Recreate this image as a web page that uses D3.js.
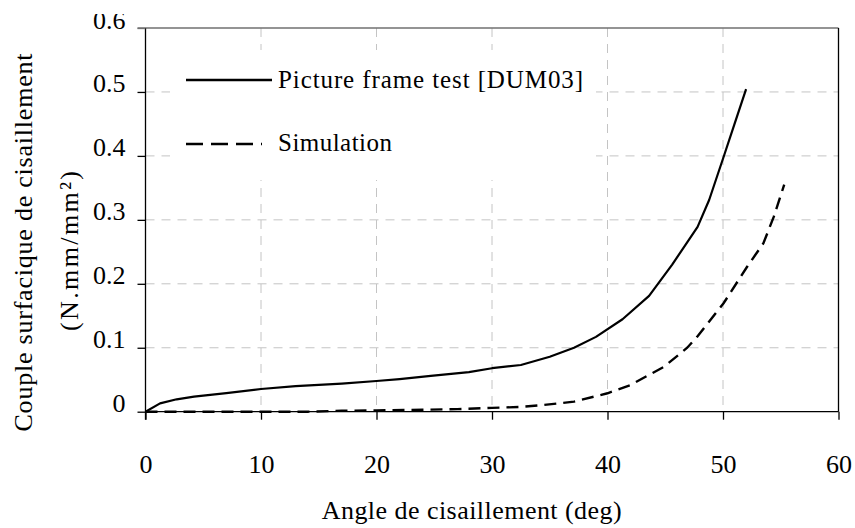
<!DOCTYPE html>
<html>
<head>
<meta charset="utf-8">
<script src="https://cdn.jsdelivr.net/npm/d3@7"></script>
<style>
  html, body { margin: 0; padding: 0; background: #fff; }
  svg { display: block; }
  text { font-family: "Liberation Serif", "Times New Roman", serif; fill: #000; }
</style>
</head>
<body>
<svg id="chart" width="855" height="528"></svg>
<script>
// ---- data ----
const xTickValues = [0, 10, 20, 30, 40, 50, 60];
const yTickValues = [0, 0.1, 0.2, 0.3, 0.4, 0.5, 0.6];
const yTickLabels = ["0", "0.1", "0.2", "0.3", "0.4", "0.5", "0.6"];

const testAngle = [0, 1.26, 2.7, 4.2, 7, 10, 13, 17, 20, 22, 24.7, 28, 30, 32.5, 35, 37.1, 39, 41.3, 43.6, 45.6, 47.8, 48.8, 50.1, 51, 52];
const testValue = [0, 0.013, 0.0194, 0.0235, 0.029, 0.0355, 0.040, 0.044, 0.048, 0.051, 0.056, 0.062, 0.068, 0.073, 0.086, 0.1, 0.117, 0.1446, 0.181, 0.23, 0.289, 0.331, 0.401, 0.45, 0.5045];

const simAngle = [0, 5, 10, 14, 17, 20, 24, 27, 30, 32.5, 34.2, 37.1, 40, 42, 44.9, 46.9, 47.75, 50.05, 52.1, 53.5, 54.4, 55.3];
const simValue = [0, 0, 0, 0, 0.0015, 0.002, 0.003, 0.004, 0.006, 0.0075, 0.01, 0.0157, 0.0288, 0.0418, 0.0704, 0.1, 0.117, 0.1696, 0.227, 0.2635, 0.305, 0.355];

const seriesNames = ["Picture frame test [DUM03]", "Simulation"];
const xTitle = "Angle de cisaillement (deg)";
const yTitle1 = "Couple surfacique de cisaillement";
const yTitle2 = "(N.mm/mm²)";

// ---- layout ----
const svg = d3.select("#chart");
const L = 145.5, R = 838.5, T = 28, B = 411.7;
const x = d3.scaleLinear().domain([0, 60]).range([L, R]);
const y = d3.scaleLinear().domain([0, 0.6]).range([B, T]);
const FONT = "Liberation Serif";

svg.append("defs").append("clipPath").attr("id", "topclip")
  .append("rect").attr("x", 0).attr("y", 14).attr("width", 855).attr("height", 514);

const root = svg.append("g").attr("clip-path", "url(#topclip)");

// gridlines
const grid = root.append("g").attr("stroke", "#c4c4c4").attr("stroke-width", 1).attr("stroke-dasharray", "9,7");
grid.selectAll("line.v").data(xTickValues.filter(d => d > 0 && d < 60)).join("line")
  .attr("x1", d => x(d)).attr("x2", d => x(d)).attr("y1", T).attr("y2", B);
grid.selectAll("line.h").data(yTickValues.filter(d => d > 0 && d < 0.6)).join("line")
  .attr("x1", L).attr("x2", R).attr("y1", d => y(d)).attr("y2", d => y(d));

// legend background
root.append("rect").attr("x", 170).attr("y", 50).attr("width", 426).attr("height", 130).attr("fill", "#fff");

// top border (gray) and right border
root.append("line").attr("x1", L - 8).attr("x2", R).attr("y1", T).attr("y2", T)
  .attr("stroke", "#707070").attr("stroke-width", 1.4);
root.append("line").attr("x1", R).attr("x2", R).attr("y1", T).attr("y2", B)
  .attr("stroke", "#000").attr("stroke-width", 1.3);

// axes
const xAxis = d3.axisBottom(x).tickValues(xTickValues).tickSize(8).tickFormat(d3.format("d"));
const gx = root.append("g").attr("transform", `translate(0,${B})`).call(xAxis);
gx.attr("font-family", FONT);
gx.select(".domain").attr("stroke", "#000").attr("stroke-width", 1.3).attr("d", `M${L},0H${R}`);
gx.selectAll(".tick line").attr("stroke", "#000").attr("stroke-width", 1.3);
gx.selectAll(".tick text").attr("font-size", 26).attr("font-family", FONT)
  .attr("dy", null).attr("y", 61.5);

const yAxis = d3.axisLeft(y).tickValues(yTickValues).tickSize(8)
  .tickFormat((d, i) => yTickLabels[i]);
const gy = root.append("g").attr("transform", `translate(${L},0)`).call(yAxis);
gy.attr("font-family", FONT);
gy.select(".domain").attr("stroke", "#000").attr("stroke-width", 1.3).attr("d", `M0,${T}V${B + 8}`);
gy.selectAll(".tick line").attr("stroke", "#000").attr("stroke-width", 1.3);
gy.selectAll(".tick text").attr("font-size", 26).attr("font-family", FONT)
  .attr("dy", null).attr("x", -20).attr("y", 0);
gy.selectAll(".tick").filter(d => d === 0.6).select("line").attr("stroke", "#707070");

// series
const line = d3.line().x(d => x(d[0])).y(d => y(d[1])).curve(d3.curveLinear);
const testData = testAngle.map((a, i) => [a, testValue[i]]);
const simData = simAngle.map((a, i) => [a, simValue[i]]);

root.append("path").datum(simData).attr("d", line).attr("fill", "none")
  .attr("stroke", "#000").attr("stroke-width", 2.4).attr("stroke-dasharray", "12,7");
root.append("path").datum(testData).attr("d", line).attr("fill", "none")
  .attr("stroke", "#000").attr("stroke-width", 2.2).attr("stroke-linejoin", "round");

// legend
const lg = root.append("g");
lg.append("line").attr("x1", 186).attr("x2", 272).attr("y1", 80).attr("y2", 80)
  .attr("stroke", "#000").attr("stroke-width", 2.4);
lg.append("text").attr("x", 278).attr("y", 88).attr("font-size", 25)
  .attr("textLength", 305).attr("lengthAdjust", "spacing").text(seriesNames[0]);
lg.append("line").attr("x1", 186).attr("x2", 262).attr("y1", 144).attr("y2", 144)
  .attr("stroke", "#000").attr("stroke-width", 2.6).attr("stroke-dasharray", "17,8");
lg.append("text").attr("x", 278).attr("y", 151).attr("font-size", 25)
  .attr("textLength", 114).attr("lengthAdjust", "spacing").text(seriesNames[1]);

// titles
root.append("text").attr("x", 471.7).attr("y", 519).attr("text-anchor", "middle")
  .attr("font-size", 26).attr("textLength", 300).attr("lengthAdjust", "spacing").text(xTitle);
root.append("text").attr("transform", "translate(32,242.5) rotate(-90)").attr("text-anchor", "middle")
  .attr("font-size", 26).attr("textLength", 378).attr("lengthAdjust", "spacing").text(yTitle1);
root.append("text").attr("transform", "translate(78,251) rotate(-90)").attr("text-anchor", "middle")
  .attr("font-size", 26).attr("textLength", 160).attr("lengthAdjust", "spacing").text(yTitle2);
</script>
</body>
</html>
